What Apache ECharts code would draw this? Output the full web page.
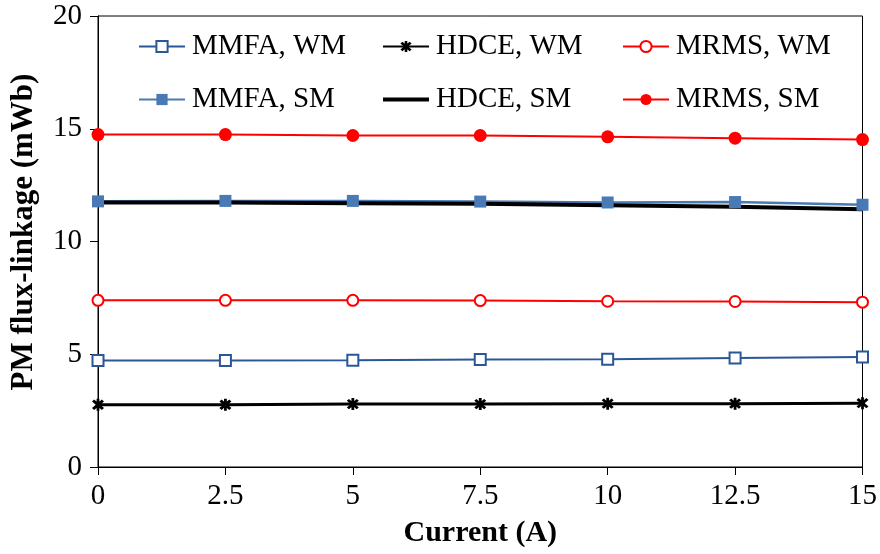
<!DOCTYPE html>
<html>
<head>
<meta charset="utf-8">
<script src="https://cdn.jsdelivr.net/npm/echarts@6/dist/echarts.min.js"></script>
<style>
  html, body { margin: 0; padding: 0; background: #fff; }
  #chart { width: 880px; height: 554px; }
</style>
</head>
<body>
<div id="chart"></div>
<script>
// Stator current (A)
const current = [0, 2.5, 5, 7.5, 10, 12.5, 15];

// PM flux-linkage (mWb) per method and magnet model
const mmfaWM = [4.72, 4.72, 4.73, 4.77, 4.78, 4.83, 4.88];
const hdceWM = [2.76, 2.76, 2.79, 2.79, 2.81, 2.81, 2.83];
const mrmsWM = [7.39, 7.39, 7.39, 7.38, 7.35, 7.34, 7.31];
const mmfaSM = [11.78, 11.80, 11.80, 11.77, 11.73, 11.75, 11.63];
const hdceSM = [11.73, 11.73, 11.70, 11.67, 11.61, 11.54, 11.43];
const mrmsSM = [14.74, 14.74, 14.70, 14.70, 14.64, 14.58, 14.52];

const yTicks = { min: 0, max: 20, step: 5 };
const xTicks = { min: 0, max: 15, step: 2.5 };

const SERIF = '"Liberation Serif", "Times New Roman", serif';
const BLUE_DARK = '#2B5797';
const BLUE = '#4A7AB5';
const RED = '#FF0000';

// asterisk marker: two diagonal bars plus a vertical bar
const ASTERISK = 'path://M5.5 8.6L8.6 5.5L-5.5 -8.6L-8.6 -5.5Z' +
  'M8.6 -5.5L5.5 -8.6L-8.6 5.5L-5.5 8.6Z' +
  'M-2 -10L-2 10L2 10L2 -10Z';

// plain thick line used as legend icon for the marker-less series
const PLAIN_LINE = 'path://M0 0L46 0L46 4L0 4Z';

const pairs = arr => current.map((x, i) => [x, arr[i]]);

const chart = echarts.init(document.getElementById('chart'), null, { renderer: 'canvas' });

const legendBase = {
  orient: 'vertical',
  top: 32,
  itemWidth: 46,
  itemHeight: 14,
  itemGap: 24,
  padding: 0,
  symbolKeepAspect: true,
  textStyle: { fontFamily: SERIF, fontSize: 29, color: '#000', padding: [0, 0, 0, 2] }
};

chart.setOption({
  animation: false,
  backgroundColor: '#fff',
  grid: {
    left: 98, right: 17, top: 16, bottom: 87,
    show: true, borderColor: '#000', borderWidth: 1, backgroundColor: 'transparent'
  },
  legend: [
    Object.assign({}, legendBase, { left: 138, data: ['MMFA, WM', 'MMFA, SM'] }),
    Object.assign({}, legendBase, { left: 382, data: ['HDCE, WM', { name: 'HDCE, SM', icon: PLAIN_LINE }] }),
    Object.assign({}, legendBase, { left: 622, data: ['MRMS, WM', 'MRMS, SM'] })
  ],
  graphic: [
    {
      type: 'text',
      x: 24, y: 232,
      rotation: Math.PI / 2,
      style: {
        text: 'PM flux-linkage (mWb)',
        fontFamily: SERIF, fontSize: 31, fontWeight: 'bold', fill: '#000',
        align: 'center', verticalAlign: 'middle'
      }
    }
  ],
  xAxis: {
    type: 'value',
    min: xTicks.min, max: xTicks.max, interval: xTicks.step,
    name: 'Current (A)',
    nameLocation: 'middle',
    nameGap: 51,
    nameTextStyle: { fontFamily: SERIF, fontSize: 30, fontWeight: 'bold', color: '#000' },
    axisLine: { show: true, lineStyle: { color: '#000', width: 1 } },
    axisTick: { show: true, inside: false, length: 8, lineStyle: { color: '#000' } },
    axisLabel: { fontFamily: SERIF, fontSize: 29, color: '#000', margin: 15 },
    splitLine: { show: false }
  },
  yAxis: {
    type: 'value',
    min: yTicks.min, max: yTicks.max, interval: yTicks.step,
    axisLine: { show: true, lineStyle: { color: '#000', width: 1 } },
    axisTick: { show: true, inside: false, length: 8, lineStyle: { color: '#000' } },
    axisLabel: { fontFamily: SERIF, fontSize: 29, color: '#000', margin: 16 },
    splitLine: { show: false }
  },
  series: [
    {
      name: 'MMFA, WM', type: 'line', data: pairs(mmfaWM),
      symbol: 'rect', symbolSize: 11,
      lineStyle: { color: BLUE_DARK, width: 2 },
      itemStyle: { color: '#fff', borderColor: BLUE_DARK, borderWidth: 2 }
    },
    {
      name: 'HDCE, WM', type: 'line', data: pairs(hdceWM),
      symbol: ASTERISK, symbolSize: 12,
      lineStyle: { color: '#000', width: 3 },
      itemStyle: { color: '#000' }
    },
    {
      name: 'MRMS, WM', type: 'line', data: pairs(mrmsWM),
      symbol: 'circle', symbolSize: 11,
      lineStyle: { color: RED, width: 2 },
      itemStyle: { color: '#fff', borderColor: RED, borderWidth: 2 }
    },
    {
      name: 'MMFA, SM', type: 'line', data: pairs(mmfaSM),
      symbol: 'rect', symbolSize: 12,
      lineStyle: { color: BLUE, width: 2.5 },
      itemStyle: { color: BLUE, borderColor: BLUE, borderWidth: 0 }
    },
    {
      name: 'HDCE, SM', type: 'line', data: pairs(hdceSM),
      symbol: 'none', showSymbol: false,
      lineStyle: { color: '#000', width: 4 },
      itemStyle: { color: '#000' },
      z: 3
    },
    {
      name: 'MRMS, SM', type: 'line', data: pairs(mrmsSM),
      symbol: 'circle', symbolSize: 13,
      lineStyle: { color: RED, width: 2 },
      itemStyle: { color: RED, borderColor: RED, borderWidth: 0 }
    }
  ]
});
</script>
</body>
</html>
